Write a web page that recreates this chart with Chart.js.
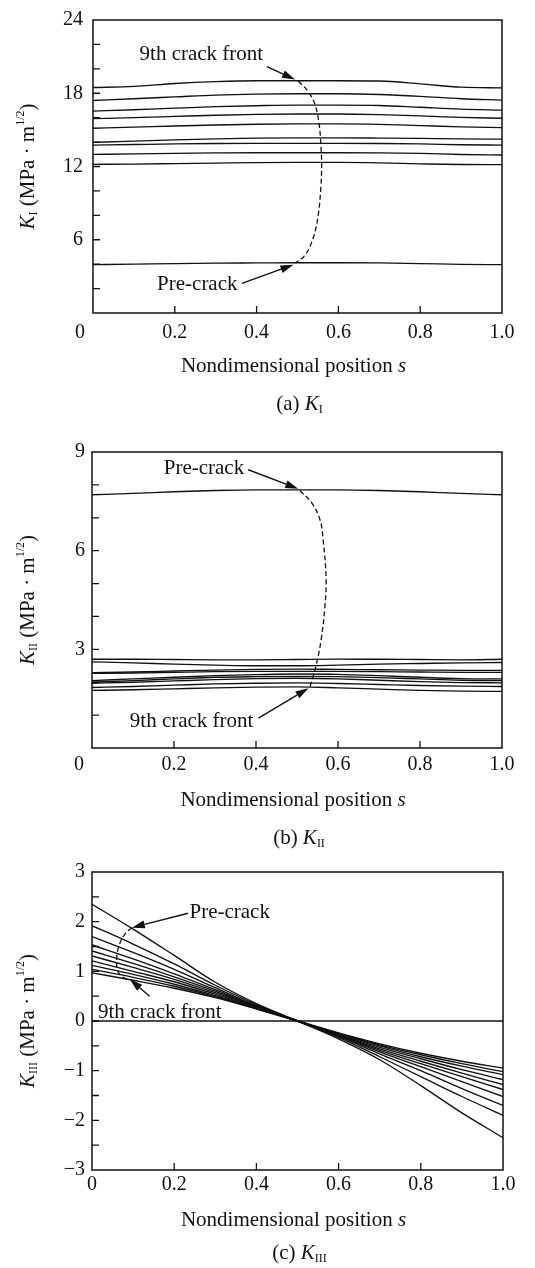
<!DOCTYPE html>
<html>
<head>
<meta charset="utf-8">
<script src="https://cdn.jsdelivr.net/npm/chart.js@4.4.1/dist/chart.umd.min.js"></script>
<style>
  html, body { margin: 0; padding: 0; background: #fff; }
  #wrap { position: relative; width: 535px; height: 1268px; }
  canvas { position: absolute; left: 0; }
</style>
</head>
<body>
<div id="wrap">
  <canvas id="chartA" width="535" height="420" style="top:0"></canvas>
  <canvas id="chartB" width="535" height="430" style="top:420px"></canvas>
  <canvas id="chartC" width="535" height="418" style="top:850px"></canvas>
</div>
<script>
const INK = '#111';
const SERIF = '"Liberation Serif", "Times New Roman", serif';

// nondimensional position along the crack front
const sGrid = [0, 0.1, 0.2, 0.3, 0.4, 0.5, 0.6, 0.7, 0.8, 0.9, 1.0];
const xTickLabels = [0, 0.2, 0.4, 0.6, 0.8, 1.0];

// (a) K_I
const kIPre = [3.96, 4.0, 4.05, 4.08, 4.1, 4.12, 4.12, 4.1, 4.05, 3.98, 3.96];
const kIFronts = [
  [18.47, 18.56, 18.8, 18.95, 19.02, 19.02, 19.02, 19.0, 18.77, 18.5, 18.44],
  [17.41, 17.55, 17.7, 17.85, 17.93, 17.96, 17.96, 17.9, 17.75, 17.55, 17.44],
  [16.54, 16.65, 16.78, 16.9, 16.98, 17.03, 17.03, 17.0, 16.85, 16.7, 16.62],
  [15.92, 16.0, 16.1, 16.2, 16.27, 16.3, 16.3, 16.25, 16.15, 16.02, 15.95],
  [15.13, 15.22, 15.32, 15.4, 15.46, 15.49, 15.49, 15.45, 15.35, 15.25, 15.19],
  [13.97, 14.08, 14.18, 14.26, 14.32, 14.35, 14.35, 14.33, 14.3, 14.26, 14.24],
  [13.75, 13.8, 13.85, 13.88, 13.89, 13.89, 13.89, 13.88, 13.85, 13.78, 13.75],
  [12.99, 13.04, 13.08, 13.11, 13.13, 13.13, 13.13, 13.12, 13.08, 12.98, 12.94],
  [12.18, 12.2, 12.24, 12.28, 12.32, 12.34, 12.34, 12.3, 12.22, 12.16, 12.15]
];
const kIPathS = [0.502, 0.526, 0.543, 0.553, 0.557, 0.559, 0.557, 0.551, 0.539, 0.518, 0.494];
const kIPathK = [19.0, 18.14, 17.06, 15.43, 13.8, 12.18, 10.28, 8.11, 6.21, 4.72, 4.1];
const kILabels = [6, 12, 18, 24];

// (b) K_II
const kIIPre = [7.70, 7.74, 7.79, 7.83, 7.85, 7.85, 7.85, 7.83, 7.79, 7.74, 7.70];
const kIIFronts = [
  [2.70, 2.70, 2.69, 2.68, 2.68, 2.69, 2.70, 2.70, 2.69, 2.68, 2.70],
  [2.62, 2.59, 2.55, 2.52, 2.50, 2.50, 2.52, 2.55, 2.57, 2.59, 2.60],
  [2.29, 2.31, 2.34, 2.37, 2.39, 2.40, 2.39, 2.38, 2.37, 2.36, 2.36],
  [2.27, 2.28, 2.30, 2.32, 2.33, 2.33, 2.33, 2.32, 2.31, 2.30, 2.30],
  [2.05, 2.10, 2.15, 2.20, 2.23, 2.25, 2.24, 2.20, 2.15, 2.11, 2.10],
  [2.00, 2.05, 2.10, 2.15, 2.17, 2.18, 2.17, 2.14, 2.10, 2.06, 2.05],
  [1.97, 2.00, 2.04, 2.08, 2.11, 2.12, 2.10, 2.06, 2.02, 1.99, 1.98],
  [1.84, 1.87, 1.91, 1.95, 1.97, 1.98, 1.96, 1.93, 1.90, 1.88, 1.87],
  [1.75, 1.77, 1.80, 1.83, 1.85, 1.86, 1.83, 1.79, 1.75, 1.73, 1.72]
];
const kIIPathS = [0.507, 0.536, 0.556, 0.564, 0.571, 0.568, 0.56, 0.548, 0.532];
const kIIPathK = [7.83, 7.45, 6.94, 6.3, 5.12, 4.3, 3.39, 2.58, 1.87];
const kIILabels = [3, 6, 9];

// (c) K_III
const kIIIPre = [2.35, 1.85, 1.32, 0.78, 0.35, 0, -0.36, -0.78, -1.30, -1.85, -2.35];
const kIIIFronts = [
  [1.92, 1.55, 1.15, 0.72, 0.33, 0, -0.33, -0.72, -1.12, -1.52, -1.90],
  [1.70, 1.38, 1.04, 0.67, 0.31, 0, -0.31, -0.66, -1.00, -1.36, -1.70],
  [1.53, 1.25, 0.95, 0.63, 0.30, 0, -0.30, -0.62, -0.92, -1.22, -1.52],
  [1.41, 1.16, 0.89, 0.60, 0.29, 0, -0.29, -0.59, -0.86, -1.12, -1.38],
  [1.31, 1.08, 0.84, 0.57, 0.28, 0, -0.28, -0.56, -0.81, -1.05, -1.28],
  [1.21, 1.00, 0.79, 0.54, 0.27, 0, -0.27, -0.53, -0.76, -0.98, -1.18],
  [1.12, 0.94, 0.74, 0.51, 0.26, 0, -0.26, -0.50, -0.72, -0.91, -1.08],
  [1.04, 0.88, 0.70, 0.49, 0.25, 0, -0.25, -0.48, -0.68, -0.86, -1.02],
  [0.97, 0.82, 0.66, 0.47, 0.24, 0, -0.24, -0.46, -0.65, -0.81, -0.95]
];
const kIIIZero = [0, 0, 0, 0, 0, 0, 0, 0, 0, 0, 0];
const kIIIPathS = [0.097, 0.08, 0.066, 0.06, 0.062, 0.07, 0.08, 0.09];
const kIIIPathK = [1.88, 1.75, 1.52, 1.26, 1.02, 0.92, 0.86, 0.84];
const kIIILabels = [-3, -2, -1, 0, 1, 2, 3];

function lineSet(vals) {
  return {
    data: sGrid.map((s, i) => ({ x: s, y: vals[i] })),
    borderColor: INK, borderWidth: 1.35, pointRadius: 0, fill: false,
    cubicInterpolationMode: 'monotone'
  };
}

function pathSet(xs, ys) {
  return {
    data: xs.map((x, i) => ({ x, y: ys[i] })),
    borderColor: INK, borderWidth: 1.3, borderDash: [5, 3], pointRadius: 0,
    fill: false, tension: 0.4
  };
}

function font(p, base) {
  return (p.italic ? 'italic ' : '') + (p.size || base) + 'px ' + SERIF;
}

function drawRich(ctx, parts, x, y, base) {
  let total = 0;
  parts.forEach(p => { ctx.font = font(p, base); total += ctx.measureText(p.t).width; });
  let cx = x - total / 2;
  ctx.textAlign = 'left';
  ctx.textBaseline = 'middle';
  parts.forEach(p => {
    ctx.font = font(p, base);
    ctx.fillText(p.t, cx, y + (p.dy || 0));
    cx += ctx.measureText(p.t).width;
  });
}

function arrow(ctx, x1, y1, x2, y2) {
  const ang = Math.atan2(y2 - y1, x2 - x1);
  const L = 13, W = 4;
  const bx = x2 - L * Math.cos(ang), by = y2 - L * Math.sin(ang);
  ctx.beginPath();
  ctx.moveTo(x1, y1);
  ctx.lineTo(bx, by);
  ctx.lineWidth = 1.4;
  ctx.stroke();
  ctx.beginPath();
  ctx.moveTo(x2, y2);
  ctx.lineTo(bx - W * Math.sin(ang), by + W * Math.cos(ang));
  ctx.lineTo(bx + W * Math.sin(ang), by - W * Math.cos(ang));
  ctx.closePath();
  ctx.fill();
}

function makeDecor(p) {
  return {
    id: 'decor',
    afterDraw(chart) {
      const ctx = chart.ctx, a = chart.chartArea;
      const xs = chart.scales.x, ys = chart.scales.y;
      ctx.save();
      ctx.strokeStyle = INK;
      ctx.fillStyle = INK;
      ctx.lineWidth = 1.5;
      ctx.strokeRect(a.left, a.top, a.right - a.left, a.bottom - a.top);
      ctx.lineWidth = 1.3;
      ctx.beginPath();
      xs.ticks.forEach(t => {
        const px = xs.getPixelForValue(t.value);
        if (px <= a.left + 1 || px >= a.right - 1) return;
        ctx.moveTo(px, a.bottom); ctx.lineTo(px, a.bottom - 7);
      });
      ys.ticks.forEach(t => {
        const py = ys.getPixelForValue(t.value);
        if (py <= a.top + 1 || py >= a.bottom - 1) return;
        ctx.moveTo(a.left, py); ctx.lineTo(a.left + 7, py);
      });
      ctx.stroke();

      // callouts
      p.notes.forEach(n => {
        ctx.font = '21px ' + SERIF;
        ctx.textAlign = 'center';
        ctx.textBaseline = 'middle';
        ctx.fillText(n.text, xs.getPixelForValue(n.s), ys.getPixelForValue(n.k));
        arrow(ctx, xs.getPixelForValue(n.from[0]), ys.getPixelForValue(n.from[1]),
          xs.getPixelForValue(n.to[0]), ys.getPixelForValue(n.to[1]));
      });

      // shared origin label
      if (p.origin0) {
        ctx.font = '20px ' + SERIF;
        ctx.textAlign = 'center';
        ctx.textBaseline = 'middle';
        ctx.fillText('0', a.left - 13, a.bottom + p.xPad + 10);
      }

      // y axis title
      ctx.save();
      ctx.translate(28, (a.top + a.bottom) / 2);
      ctx.rotate(-Math.PI / 2);
      drawRich(ctx, [
        { t: 'K', italic: true },
        { t: p.sub, size: 12, dy: 6 },
        { t: ' (MPa \u00b7 m' },
        { t: '1/2', size: 12, dy: -7 },
        { t: ')' }
      ], 0, 0, 21);
      ctx.restore();

      const cx = (a.left + a.right) / 2;
      drawRich(ctx, [
        { t: 'Nondimensional position ' },
        { t: 's', italic: true }
      ], cx - 4, p.titleY, 21);
      drawRich(ctx, [
        { t: p.tag + ' ' },
        { t: 'K', italic: true },
        { t: p.sub, size: 12, dy: 6 }
      ], cx + 2, p.capY, 21);
      ctx.restore();
    }
  };
}

function build(p) {
  const datasets = p.series.map(lineSet);
  datasets.push(pathSet(p.pathS, p.pathK));
  new Chart(document.getElementById(p.id), {
    type: 'line',
    data: { datasets },
    options: {
      responsive: false,
      animation: false,
      layout: { padding: { top: p.plot.t, right: 535 - p.plot.r, left: 0, bottom: 0 } },
      plugins: { legend: { display: false }, tooltip: { enabled: false } },
      scales: {
        x: {
          type: 'linear', min: 0, max: 1,
          grid: { display: false, drawTicks: false },
          border: { display: false },
          afterFit: s => { s.height = p.H - p.plot.b; },
          afterBuildTicks: s => { s.ticks = xTickLabels.map(v => ({ value: v })); },
          ticks: {
            autoSkip: false, maxRotation: 0, padding: p.xPad, color: INK,
            font: { family: SERIF, size: 20, lineHeight: 1 },
            callback: v => {
              if (Math.abs(v) < 1e-9) return p.origin0 ? '' : '0';
              return v.toFixed(1);
            }
          }
        },
        y: {
          type: 'linear', min: p.yMin, max: p.yMax,
          grid: { display: false, drawTicks: false },
          border: { display: false },
          afterFit: s => { s.width = p.plot.l; },
          ticks: {
            stepSize: p.yStep, autoSkip: false, padding: p.yPad, color: INK,
            font: { family: SERIF, size: 20, lineHeight: 1 },
            callback: v => {
              if (!p.yLabels.some(l => Math.abs(l - v) < 1e-9)) return '';
              if (p.origin0 && Math.abs(v) < 1e-9) return '';
              return String(v).replace('-', '\u2212');
            }
          }
        }
      }
    },
    plugins: [makeDecor(p)]
  });
}

build({
  id: 'chartA', H: 420, plot: { l: 93, t: 18, r: 502, b: 313 },
  yMin: 0, yMax: 24, yStep: 2, yLabels: kILabels, xPad: 10, yPad: 10,
  origin0: true, sub: 'I', tag: '(a)', titleY: 366, capY: 404,
  series: kIFronts.concat([kIPre]), pathS: kIPathS, pathK: kIPathK,
  notes: [
    { text: '9th crack front', s: 0.265, k: 21.15, from: [0.425, 20.18], to: [0.494, 19.12] },
    { text: 'Pre-crack', s: 0.255, k: 2.36, from: [0.364, 2.42], to: [0.49, 3.95] }
  ]
});

build({
  id: 'chartB', H: 430, plot: { l: 92, t: 32, r: 502, b: 328 },
  yMin: 0, yMax: 9, yStep: 1, yLabels: kIILabels, xPad: 7, yPad: 7,
  origin0: true, sub: 'II', tag: '(b)', titleY: 380, capY: 418,
  series: [kIIPre].concat(kIIFronts), pathS: kIIPathS, pathK: kIIPathK,
  notes: [
    { text: 'Pre-crack', s: 0.273, k: 8.5, from: [0.381, 8.46], to: [0.503, 7.88] },
    { text: '9th crack front', s: 0.243, k: 0.81, from: [0.406, 0.91], to: [0.528, 1.82] }
  ]
});

build({
  id: 'chartC', H: 418, plot: { l: 92, t: 22, r: 503, b: 320 },
  yMin: -3, yMax: 3, yStep: 0.5, yLabels: kIIILabels, xPad: 5, yPad: 7,
  origin0: false, sub: 'III', tag: '(c)', titleY: 370, capY: 403,
  series: [kIIIPre].concat(kIIIFronts, [kIIIZero]), pathS: kIIIPathS, pathK: kIIIPathK,
  notes: [
    { text: 'Pre-crack', s: 0.335, k: 2.19, from: [0.234, 2.17], to: [0.097, 1.88] },
    { text: '9th crack front', s: 0.165, k: 0.17, from: [0.14, 0.5], to: [0.092, 0.84] }
  ]
});
</script>
</body>
</html>
